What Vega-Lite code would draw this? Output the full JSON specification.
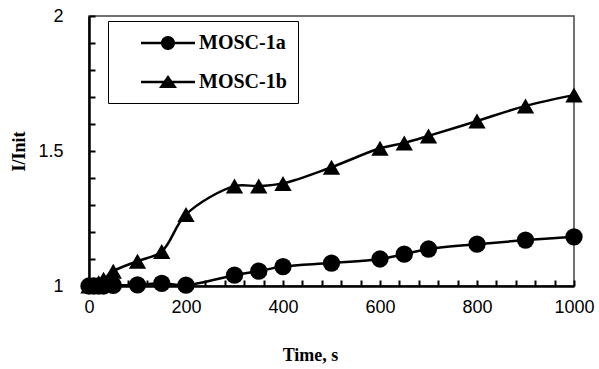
{
  "$schema": "https://vega.github.io/schema/vega-lite/v6.json",
  "width": 485,
  "height": 270,
  "autosize": {"type": "none"},
  "padding": {"left": 89, "top": 16, "right": 25, "bottom": 83},
  "background": "white",
  "config": {"view": {"stroke": "#444", "strokeWidth": 1.5}},
  "data": {
    "values": [
      {"series": "MOSC-1a", "t": 0, "v": 1.0},
      {"series": "MOSC-1a", "t": 10, "v": 1.0},
      {"series": "MOSC-1a", "t": 20, "v": 1.0},
      {"series": "MOSC-1a", "t": 30, "v": 1.0},
      {"series": "MOSC-1a", "t": 50, "v": 1.002},
      {"series": "MOSC-1a", "t": 100, "v": 1.004},
      {"series": "MOSC-1a", "t": 150, "v": 1.01},
      {"series": "MOSC-1a", "t": 200, "v": 1.003},
      {"series": "MOSC-1a", "t": 300, "v": 1.04},
      {"series": "MOSC-1a", "t": 350, "v": 1.055},
      {"series": "MOSC-1a", "t": 400, "v": 1.072},
      {"series": "MOSC-1a", "t": 500, "v": 1.085},
      {"series": "MOSC-1a", "t": 600, "v": 1.1},
      {"series": "MOSC-1a", "t": 650, "v": 1.118},
      {"series": "MOSC-1a", "t": 700, "v": 1.137},
      {"series": "MOSC-1a", "t": 800, "v": 1.155},
      {"series": "MOSC-1a", "t": 900, "v": 1.17},
      {"series": "MOSC-1a", "t": 1000, "v": 1.182},
      {"series": "MOSC-1b", "t": 0, "v": 1.0},
      {"series": "MOSC-1b", "t": 10, "v": 1.005},
      {"series": "MOSC-1b", "t": 20, "v": 1.012},
      {"series": "MOSC-1b", "t": 30, "v": 1.025},
      {"series": "MOSC-1b", "t": 50, "v": 1.055},
      {"series": "MOSC-1b", "t": 100, "v": 1.092},
      {"series": "MOSC-1b", "t": 150, "v": 1.128},
      {"series": "MOSC-1b", "t": 200, "v": 1.265},
      {"series": "MOSC-1b", "t": 300, "v": 1.37},
      {"series": "MOSC-1b", "t": 350, "v": 1.37},
      {"series": "MOSC-1b", "t": 400, "v": 1.38},
      {"series": "MOSC-1b", "t": 500, "v": 1.44},
      {"series": "MOSC-1b", "t": 600, "v": 1.51},
      {"series": "MOSC-1b", "t": 650, "v": 1.53},
      {"series": "MOSC-1b", "t": 700, "v": 1.556},
      {"series": "MOSC-1b", "t": 800, "v": 1.611},
      {"series": "MOSC-1b", "t": 900, "v": 1.667},
      {"series": "MOSC-1b", "t": 1000, "v": 1.707}
    ]
  },
  "encoding": {
    "x": {
      "field": "t",
      "type": "quantitative",
      "scale": {"domain": [0, 1000], "nice": false, "zero": false},
      "axis": {
        "values": [0, 40, 80, 120, 160, 200, 240, 280, 320, 360, 400, 440, 480, 520, 560, 600, 640, 680, 720, 760, 800, 840, 880, 920, 960, 1000],
        "format": "d",
        "labelExpr": "datum.value % 200 == 0 ? datum.label : ''",
        "labelOverlap": false,
        "labelFlush": false,
        "grid": false,
        "title": "Time, s",
        "domainColor": "black",
        "domainWidth": 2.5,
        "tickColor": "black",
        "tickWidth": 2,
        "tickSize": -6,
        "labelPadding": 18,
        "labelFont": "Liberation Sans",
        "labelFontSize": 18,
        "labelColor": "black",
        "titleFont": "Liberation Serif",
        "titleFontWeight": "bold",
        "titleFontSize": 18,
        "titleColor": "black",
        "titlePadding": 30,
        "titleX": 221
      }
    },
    "y": {
      "field": "v",
      "type": "quantitative",
      "scale": {"domain": [1, 2], "nice": false, "zero": false},
      "axis": {
        "values": [1, 1.1, 1.2, 1.3, 1.4, 1.5, 1.6, 1.7, 1.8, 1.9, 2],
        "labelExpr": "abs(datum.value * 2 - round(datum.value * 2)) < 0.01 ? datum.label : ''",
        "format": "~g",
        "labelOverlap": false,
        "labelFlush": false,
        "grid": false,
        "title": "I/Init",
        "domainColor": "black",
        "domainWidth": 2.5,
        "tickColor": "black",
        "tickWidth": 2,
        "tickSize": -6,
        "labelPadding": 32,
        "labelFont": "Liberation Sans",
        "labelFontSize": 18,
        "labelColor": "black",
        "titleFont": "Liberation Serif",
        "titleFontWeight": "bold",
        "titleFontSize": 18,
        "titleColor": "black",
        "titlePadding": 9
      }
    }
  },
  "resolve": {"scale": {"shape": "independent"}},
  "layer": [
    {
      "mark": {"type": "point", "filled": true, "color": "black", "opacity": 0, "size": 400},
      "encoding": {
        "shape": {
          "field": "series",
          "type": "nominal",
          "scale": {"range": [
            "M-2.7,-0.12H2.7V0.12H-2.7Z M-0.7,0A0.7,0.7 0 1,1 0.7,0A0.7,0.7 0 1,1 -0.7,0Z",
            "M-2.7,-0.12H2.7V0.12H-2.7Z M0,-0.7L0.9,0.6L-0.9,0.6Z"
          ]},
          "legend": {
            "title": null,
            "orient": "none",
            "legendX": 19,
            "legendY": 5,
            "direction": "vertical",
            "strokeColor": "black",
            "fillColor": "white",
            "padding": 11,
            "rowPadding": 18,
            "symbolSize": 400,
            "symbolOffset": 38,
            "labelOffset": 20,
            "symbolOpacity": 1,
            "symbolFillColor": "black",
            "labelExpr": "datum.label + '\u00a0\u00a0\u00a0\u00a0\u00a0\u00a0\u00a0'",
            "labelFont": "Liberation Serif",
            "labelFontWeight": "bold",
            "labelFontSize": 20,
            "labelColor": "black"
          }
        }
      }
    },
    {
      "mark": {"type": "line", "interpolate": "catmull-rom", "color": "black", "strokeWidth": 2.5},
      "encoding": {"detail": {"field": "series", "type": "nominal"}}
    },
    {
      "mark": {"type": "point", "filled": true, "color": "black", "opacity": 1, "size": 300},
      "encoding": {
        "shape": {
          "field": "series",
          "type": "nominal",
          "scale": {"range": ["circle", "triangle-up"]},
          "legend": null
        }
      }
    }
  ]
}
